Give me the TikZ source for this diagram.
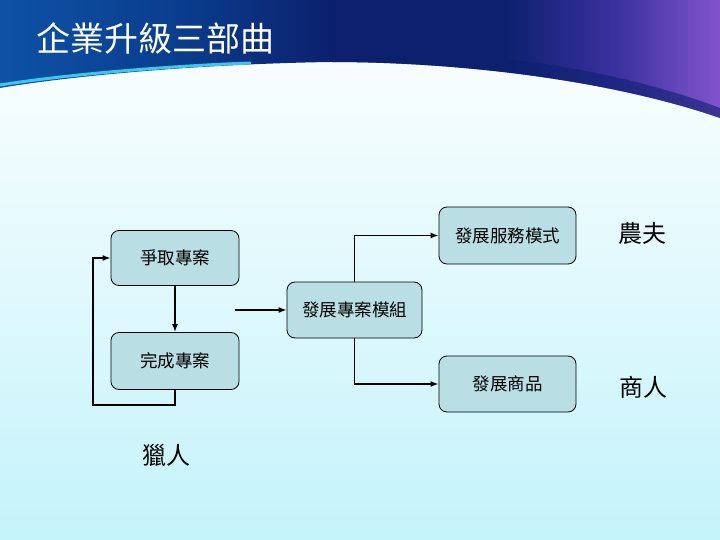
\documentclass[tikz,border=0pt]{standalone}
\usepackage{fontspec}
\setmainfont{Noto Sans CJK TC}
\newfontfamily\cjk{Noto Sans CJK TC}
\usetikzlibrary{arrows.meta}
\definecolor{boxfill}{RGB}{185,223,228}
\definecolor{hdrblue}{RGB}{14,82,166}
\definecolor{hdrblue2}{RGB}{10,60,140}
\definecolor{hdrnavy}{RGB}{12,32,110}
\definecolor{hdrmid}{RGB}{60,50,160}
\definecolor{hdrpurple}{RGB}{130,84,206}
\definecolor{bgtop}{RGB}{255,255,255}
\definecolor{bgbot}{RGB}{196,243,250}
\definecolor{accent}{RGB}{60,200,235}
\pgfdeclarehorizontalshading{hdrshade}{100bp}{color(0bp)=(hdrblue); color(25bp)=(hdrblue); color(38bp)=(hdrblue2); color(48bp)=(hdrnavy); color(60bp)=(hdrnavy); color(68bp)=(hdrmid); color(75bp)=(hdrpurple); color(100bp)=(hdrpurple)}
\tikzset{
  procbox/.style={draw=black, line width=0.8pt, fill=boxfill, rounded corners=8pt,
    inner sep=0pt, font=\cjk\fontsize{17.5}{19}\selectfont},
  roletext/.style={font=\cjk\fontsize{24}{26}\selectfont},
  conn/.style={line width=1.4pt, -{Latex[length=8pt,width=6pt]}}
}
\begin{document}
\begin{tikzpicture}[x=1pt,y=-1pt]
\useasboundingbox (0,0) rectangle (720,540);
% background
\shade[top color=bgtop, bottom color=bgbot] (0,0) rectangle (720,540);
% header band
\shade[shading=hdrshade]
  (0,0) -- (720,0) -- (720,118)
  .. controls (610,80) and (460,62) .. (330,62)
  .. controls (200,64) and (70,76) .. (0,88) -- cycle;
% dark band along right part of curve
\fill[hdrnavy, opacity=0.6]
  (330,62) .. controls (460,62) and (610,80) .. (720,118)
  -- (720,108) .. controls (620,70) and (470,44) .. (330,56) -- cycle;
% cyan accent along left part of curve
\draw[accent, line width=3pt, line cap=round]
  (0,85) .. controls (70,74) and (170,66) .. (250,63);
% title
\node[text=white, anchor=center, font=\cjk\fontsize{34}{36}\selectfont] (title) at (155,38) {企業升級三部曲};
% boxes
\node[procbox, minimum width=128pt, minimum height=55pt] (b1) at (175,258) {爭取專案};
\node[procbox, minimum width=128pt, minimum height=57pt] (b2) at (175,361) {完成專案};
\node[procbox, minimum width=135pt, minimum height=56pt] (b3) at (354.5,310) {發展專案模組};
\node[procbox, minimum width=137pt, minimum height=57pt] (b4) at (507.5,235.5) {發展服務模式};
\node[procbox, minimum width=137pt, minimum height=56pt] (b5) at (507.5,384) {發展商品};
% labels
\node[roletext] (farmer) at (642,233) {農夫};
\node[roletext] (merchant) at (643,387) {商人};
\node[roletext] (hunter) at (166,455) {獵人};
% connectors
\coordinate (lp) at (93,405);
\coordinate (instart) at (235,310);
\draw[conn] (b1.south) -- (b2.north);
\draw[conn] (b2.south) |- (lp) |- (b1.west);
\draw[conn] (instart) -- (b3.west);
\draw[conn] (b3.north) |- (b4.west);
\draw[conn] (b3.south) |- (b5.west);
\end{tikzpicture}
\end{document}
